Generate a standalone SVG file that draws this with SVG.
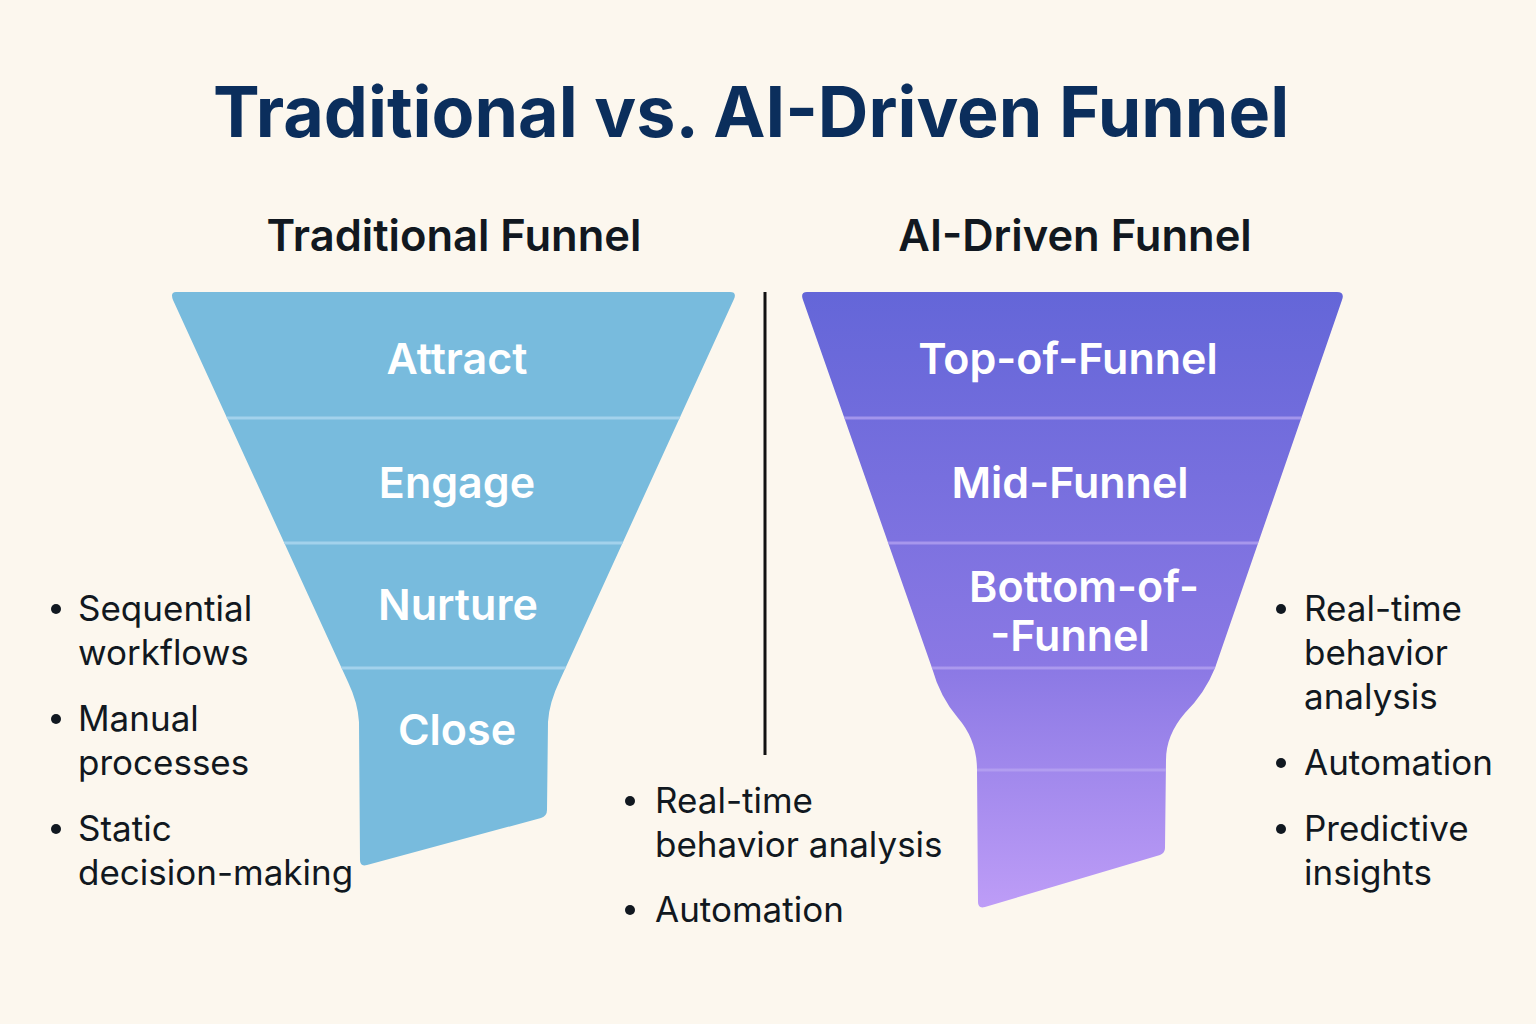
<svg xmlns="http://www.w3.org/2000/svg" width="1536" height="1024" viewBox="0 0 1536 1024">
<defs>
<style>
.title{font-family:Inter,"Liberation Sans",sans-serif;font-weight:700;font-size:70px;fill:#0B2E5C}
.sub{font-family:Inter,"Liberation Sans",sans-serif;font-weight:600;font-size:43.5px;fill:#111820}
.lbl{font-family:Inter,"Liberation Sans",sans-serif;font-weight:600;font-size:43px;fill:#ffffff;text-anchor:middle}
.bul{font-family:Inter,"Liberation Sans",sans-serif;font-weight:400;font-size:35px;fill:#111820}
.dot{fill:#111820}
.div-l{stroke:#A3D2EC;stroke-width:3}
.div-r{stroke:#B9A6F2;stroke-width:3;stroke-opacity:0.7}
</style>
<linearGradient id="gradAI" x1="0" y1="292" x2="0" y2="910" gradientUnits="userSpaceOnUse">
<stop offset="0" stop-color="#6466D8"/>
<stop offset="0.6" stop-color="#8A78E4"/>
<stop offset="1" stop-color="#BE9DF7"/>
</linearGradient>
<clipPath id="clipL"><path d="M176,292 L730,292 Q737,292 734,299 L560,680 Q549,703 548,722 L547,810 Q547,816 541,818 L367,865 Q360,867 360,860 L359,722 Q358,703 348,682 L173,300 Q170,292 176,292 Z"/></clipPath>
<clipPath id="clipR"><path d="M807,292 L1337,292 Q1345,292 1342,300 L1215,668 Q1205,693 1185,713 Q1166,735 1166,760 L1165,848 Q1165,853 1160,855 L985,907 Q978,909 978,902 L977,770 Q977,740 958,718 Q940,697 932,668 L803,300 Q800,292 807,292 Z"/></clipPath>
</defs>
<rect width="1536" height="1024" fill="#FCF7EE"/>
<text class="title" x="751" y="137" text-anchor="middle">Traditional vs. AI-Driven Funnel</text>
<text class="sub" x="454" y="251" text-anchor="middle">Traditional Funnel</text>
<text class="sub" x="1075" y="251" text-anchor="middle">AI-Driven Funnel</text>

<g id="traditional-funnel">
<path d="M176,292 L730,292 Q737,292 734,299 L560,680 Q549,703 548,722 L547,810 Q547,816 541,818 L367,865 Q360,867 360,860 L359,722 Q358,703 348,682 L173,300 Q170,292 176,292 Z" fill="#78BBDD"/>
<g clip-path="url(#clipL)">
<line class="div-l" x1="150" y1="418" x2="760" y2="418"/>
<line class="div-l" x1="150" y1="543" x2="760" y2="543"/>
<line class="div-l" x1="150" y1="668" x2="760" y2="668"/>
</g>
</g>
<g id="stage-attract"><text class="lbl" x="457" y="374">Attract</text></g>
<g id="stage-engage"><text class="lbl" x="457" y="498">Engage</text></g>
<g id="stage-nurture"><text class="lbl" x="458" y="620">Nurture</text></g>
<g id="stage-close"><text class="lbl" x="457" y="745">Close</text></g>

<g id="ai-funnel">
<path d="M807,292 L1337,292 Q1345,292 1342,300 L1215,668 Q1205,693 1185,713 Q1166,735 1166,760 L1165,848 Q1165,853 1160,855 L985,907 Q978,909 978,902 L977,770 Q977,740 958,718 Q940,697 932,668 L803,300 Q800,292 807,292 Z" fill="url(#gradAI)"/>
<g clip-path="url(#clipR)">
<line class="div-r" x1="780" y1="418" x2="1360" y2="418"/>
<line class="div-r" x1="780" y1="543" x2="1360" y2="543"/>
<line class="div-r" x1="780" y1="668" x2="1360" y2="668"/>
<line class="div-r" x1="780" y1="770" x2="1360" y2="770"/>
</g>
</g>
<g id="stage-top"><text class="lbl" x="1068" y="374">Top-of-Funnel</text></g>
<g id="stage-mid"><text class="lbl" x="1070" y="498">Mid-Funnel</text></g>
<g id="stage-bottom"><text class="lbl" x="1084" y="602">Bottom-of-</text><text class="lbl" x="1070" y="651">-Funnel</text></g>

<g id="connectors">
<line x1="765" y1="292" x2="765" y2="755" stroke="#111111" stroke-width="3"/>
</g>

<g id="list-traditional">
<circle class="dot" cx="56" cy="609" r="5"/>
<text class="bul" x="78" y="621">Sequential</text>
<text class="bul" x="78" y="665">workflows</text>
<circle class="dot" cx="56" cy="719" r="5"/>
<text class="bul" x="78" y="731">Manual</text>
<text class="bul" x="78" y="775">processes</text>
<circle class="dot" cx="56" cy="829" r="5"/>
<text class="bul" x="78" y="841">Static</text>
<text class="bul" x="78" y="885">decision-making</text>
</g>

<g id="list-middle">
<circle class="dot" cx="630" cy="801" r="5"/>
<text class="bul" x="655" y="813">Real-time</text>
<text class="bul" x="655" y="857">behavior analysis</text>
<circle class="dot" cx="630" cy="910" r="5"/>
<text class="bul" x="655" y="922">Automation</text>
</g>

<g id="list-ai">
<circle class="dot" cx="1281" cy="609" r="5"/>
<text class="bul" x="1304" y="621">Real-time</text>
<text class="bul" x="1304" y="665">behavior</text>
<text class="bul" x="1304" y="709">analysis</text>
<circle class="dot" cx="1281" cy="763" r="5"/>
<text class="bul" x="1304" y="775">Automation</text>
<circle class="dot" cx="1281" cy="829" r="5"/>
<text class="bul" x="1304" y="841">Predictive</text>
<text class="bul" x="1304" y="885">insights</text>
</g>
</svg>
